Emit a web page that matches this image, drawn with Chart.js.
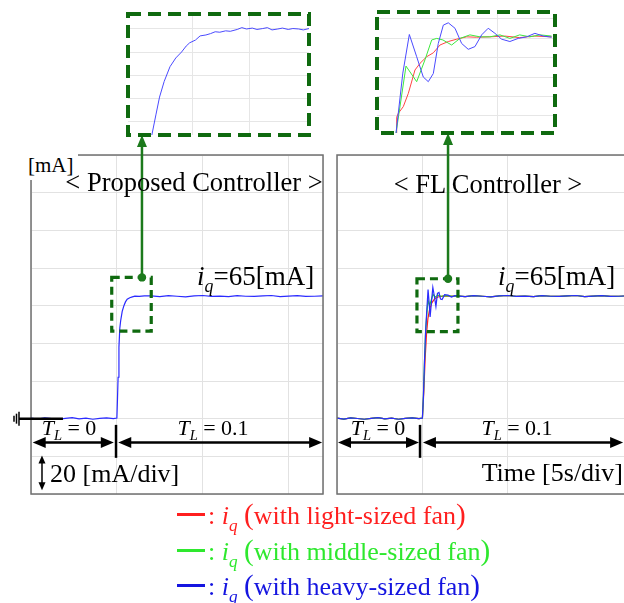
<!DOCTYPE html>
<html>
<head>
<meta charset="utf-8">
<script src="https://cdn.jsdelivr.net/npm/chart.js@4.4.1/dist/chart.umd.min.js"></script>
<style>
  html, body { margin: 0; padding: 0; background: #fff; overflow: hidden; }
  #wrap { position: relative; width: 624px; height: 603px; font-family: 'Liberation Serif', 'Times New Roman', serif; color: #000; }
  canvas { position: absolute; }
  .txt { position: absolute; white-space: nowrap; line-height: 1; z-index: 5; }
  .it { font-style: italic; }
  .sub { font-size: 0.66em; position: relative; top: 0.38em; font-style: italic; }
  .par { font-size: 1.12em; }
</style>
</head>
<body>
<div id="wrap">
  <canvas id="propMain" width="330" height="603" style="left:0;top:0;z-index:1"></canvas>
  <canvas id="flMain" width="294" height="603" style="left:330px;top:0;z-index:1"></canvas>
  <canvas id="propZoom" width="189" height="129" style="left:124px;top:10px;z-index:2"></canvas>
  <canvas id="flZoom" width="186" height="129" style="left:373px;top:8px;z-index:2"></canvas>
</div>
<script>
// time in s, current i_q in mA

// before the load step (T_L = 0) and the settled part, shared by the traces
var baseTime = [0, 0.4, 0.8, 1.2, 1.6, 2.0, 2.4, 2.8, 3.2, 3.6, 4.0, 4.4, 4.8];
var baseCurr = [0.3, -0.2, 0.4, 0.1, -0.3, 0.2, 0.5, -0.1, 0.3, -0.3, 0.2, 0.4, 0.0];
var tailTime = [7.0, 7.5, 8.0, 8.5, 9.0, 9.5, 10.0, 10.5, 11.0, 11.5, 12.0, 12.5, 13.0, 13.5, 14.0, 14.5, 15.0, 15.5, 16.0, 16.5, 17.0];
var tailCurr = [65.2, 64.8, 65.3, 65.0, 64.7, 65.2, 65.4, 64.9, 65.1, 64.8, 65.3, 65.0, 64.9, 65.2, 65.4, 64.8, 65.1, 65.3, 64.9, 65.0, 65.2];

// < Proposed Controller > : the three fans lie on top of each other
var propTime = [5.0, 5.03, 5.07, 5.12, 5.17, 5.22, 5.31, 5.41, 5.5, 5.6, 5.75, 5.9, 6.05, 6.3, 6.6];
var propCurr = [0.3, 9, 22, 38, 48, 52, 57, 60, 62, 63.4, 64.2, 64.7, 65.1, 64.9, 65.2];

// < FL Controller >
var flHeavyTime = [5.0, 5.06, 5.12, 5.19, 5.26, 5.33, 5.39, 5.45, 5.53, 5.61, 5.7, 5.79, 5.88, 5.97, 6.06, 6.15, 6.3, 6.5, 6.7, 6.9];
var flHeavy = [0.3, 12, 30, 47, 58, 68.6, 62, 54, 62, 69.7, 65, 59.6, 66.5, 67, 63.5, 63.3, 65.8, 65.6, 64.6, 65.3];
var flMiddleTime = [5.0, 5.06, 5.12, 5.19, 5.26, 5.33, 5.42, 5.52, 5.62, 5.75, 5.9, 6.1, 6.4, 6.8];
var flMiddle = [0.3, 12, 30, 47, 56, 63, 60, 63, 66, 64.5, 65.6, 65.0, 65.3, 65.0];
var flLightTime = [5.0, 5.08, 5.16, 5.24, 5.32, 5.42, 5.55, 5.7, 5.9, 6.2, 6.6];
var flLight = [0.3, 14, 32, 45, 53, 58, 61.5, 63.5, 64.6, 65.1, 65.0];

// zoomed windows above the panels
var propZoomTime = [5.15, 5.19, 5.22, 5.26, 5.31, 5.36, 5.41, 5.45, 5.48, 5.53, 5.57, 5.62, 5.66, 5.70, 5.74, 5.79, 5.83, 5.89, 5.93, 5.97, 6.02, 6.06, 6.11, 6.15, 6.19, 6.24, 6.28, 6.33, 6.37, 6.42, 6.46, 6.51];
var propZoomCurr = [41.5, 46.5, 50.2, 53.6, 56.8, 58.7, 60.0, 61.3, 62.0, 62.6, 63.5, 63.7, 64.0, 64.4, 64.3, 64.6, 64.5, 64.9, 65.3, 65.0, 65.2, 64.9, 65.1, 65.3, 64.8, 65.0, 65.2, 64.9, 65.1, 65.0, 64.8, 65.1];

var flZoomHeavyTime = [5.0, 5.10, 5.196, 5.304, 5.401, 5.475, 5.549, 5.622, 5.696, 5.769, 5.868, 5.966, 6.063, 6.162, 6.26, 6.357, 6.456, 6.554, 6.676, 6.799, 6.922, 7.044, 7.166, 7.29];
var flZoomHeavy = [40.6, 56, 65.9, 60.2, 55.0, 53.8, 55.9, 63.6, 68.3, 68.9, 67.5, 63.6, 62.1, 62.8, 65.8, 67.5, 66.2, 64.7, 64.1, 64.9, 65.3, 66.2, 65.5, 65.2];
var flZoomMiddleTime = [5.0, 5.147, 5.304, 5.426, 5.525, 5.599, 5.69, 5.819, 5.941, 6.088, 6.235, 6.382, 6.53, 6.676, 6.82, 6.97, 7.12, 7.29];
var flZoomMiddle = [40.6, 57.8, 53.8, 59.4, 64.5, 64.9, 64.5, 63.2, 64.9, 65.8, 65.3, 65.3, 65.8, 64.9, 65.8, 65.3, 65.8, 65.5];
var flZoomLightTime = [5.0, 5.01, 5.034, 5.107, 5.181, 5.279, 5.353, 5.451, 5.549, 5.647, 5.769, 5.893, 6.04, 6.187, 6.38, 6.6, 6.82, 7.04, 7.29];
var flZoomLight = [40.6, 44.7, 45.7, 47.4, 50.8, 56.8, 58.5, 60.2, 61.2, 63.2, 64.1, 64.7, 65.3, 65.2, 65.3, 65.5, 65.1, 65.5, 65.3];

var RED = '#ff2222', GREEN = '#22dd22', BLUE = '#2b2bff';
var DASH_GREEN = '#0f6a0f', ARROW_GREEN = '#1c7a1c';

function pts(t, v) {
  var out = [];
  for (var i = 0; i < t.length; i++) out.push({x: t[i], y: v[i]});
  return out;
}
function trace(t, v) {
  return pts(baseTime, baseCurr).concat(pts(t, v), pts(tailTime, tailCurr));
}
function series(data, color, order, width) {
  return { data: data, borderColor: color, borderWidth: width || 1.2, pointRadius: 0, tension: 0, order: order };
}

function head(ctx, x, y, dx, dy, len, hw) {
  ctx.beginPath();
  ctx.moveTo(x, y);
  ctx.lineTo(x - dx * len - dy * hw, y - dy * len + dx * hw);
  ctx.lineTo(x - dx * len + dy * hw, y - dy * len - dx * hw);
  ctx.closePath();
  ctx.fill();
}

function hArrow(ctx, x1, x2, y) {
  ctx.beginPath(); ctx.moveTo(x1 + 6, y); ctx.lineTo(x2 - 6, y); ctx.stroke();
  head(ctx, x1, y, -1, 0, 13, 5.5);
  head(ctx, x2, y, 1, 0, 13, 5.5);
}

// frame, zoom box with its arrow, load arrows and the scale marks
function mainDecor(o) {
  return {
    id: 'decor',
    afterDatasetsDraw: function(chart) {
      var ctx = chart.ctx, a = chart.chartArea;
      var X = function(v) { return chart.scales.x.getPixelForValue(v); };
      var Y = function(v) { return chart.scales.y.getPixelForValue(v); };
      ctx.save();

      ctx.strokeStyle = '#707070';
      ctx.lineWidth = 1.5;
      ctx.beginPath();
      ctx.moveTo(a.right, a.top); ctx.lineTo(a.left, a.top);
      ctx.lineTo(a.left, a.bottom); ctx.lineTo(a.right, a.bottom);
      if (o.closed) ctx.closePath();
      ctx.stroke();

      ctx.strokeStyle = '#000'; ctx.fillStyle = '#000';
      if (o.ground) {
        var gy = Y(0), gx = a.left - 12;
        ctx.lineWidth = 2.5;
        ctx.beginPath(); ctx.moveTo(gx, gy); ctx.lineTo(X(1.86), gy); ctx.stroke();
        ctx.lineWidth = 1.5;
        [[0, 7], [-2.5, 5], [-5, 3]].forEach(function(b) {
          ctx.beginPath(); ctx.moveTo(gx + b[0], gy - b[1]); ctx.lineTo(gx + b[0], gy + b[1]); ctx.stroke();
        });
        // 20 mA/div mark
        var dx = X(0.64);
        ctx.beginPath(); ctx.moveTo(dx, Y(-19.5) + 5); ctx.lineTo(dx, Y(-38) - 5); ctx.stroke();
        head(ctx, dx, Y(-19.5), 0, -1, 8, 3.5);
        head(ctx, dx, Y(-38), 0, 1, 8, 3.5);
      }

      // T_L arrows
      ctx.lineWidth = 2.5;
      var ay = Y(-12.7);
      hArrow(ctx, X(o.leftArrow[0]), X(o.leftArrow[1]), ay);
      hArrow(ctx, X(o.rightArrow[0]), X(o.rightArrow[1]), ay);
      ctx.beginPath(); ctx.moveTo(X(o.sepT), Y(-3.3)); ctx.lineTo(X(o.sepT), Y(-20.8)); ctx.stroke();

      // dashed zoom box
      var b = o.box;
      ctx.strokeStyle = DASH_GREEN;
      ctx.lineWidth = 3.2;
      ctx.setLineDash([8, 5]);
      ctx.strokeRect(X(b[0]), Y(b[3]), X(b[1]) - X(b[0]), Y(b[2]) - Y(b[3]));
      ctx.setLineDash([]);

      // arrow up to the zoom window
      var cx = X(o.dotT), cy = Y(b[3]);
      ctx.strokeStyle = ARROW_GREEN; ctx.fillStyle = ARROW_GREEN;
      ctx.lineWidth = 2.5;
      ctx.beginPath(); ctx.moveTo(cx, cy); ctx.lineTo(cx, o.insetBottom + 10); ctx.stroke();
      head(ctx, cx, o.insetBottom, 0, -1, 12, 5);
      ctx.beginPath(); ctx.arc(cx, cy, 4.2, 0, Math.PI * 2); ctx.fill();

      ctx.restore();
    }
  };
}

var zoomFrame = {
  id: 'zoomFrame',
  afterDraw: function(chart) {
    var a = chart.chartArea, ctx = chart.ctx;
    ctx.save();
    ctx.strokeStyle = DASH_GREEN;
    ctx.lineWidth = 4;
    ctx.setLineDash([13, 7]);
    ctx.strokeRect(a.left, a.top, a.right - a.left, a.bottom - a.top);
    ctx.restore();
  }
};

function mainChart(id, datasets, xMax, pad, decor) {
  var grid = { color: '#e2e2e2', drawTicks: false, lineWidth: 1 };
  return new Chart(document.getElementById(id), {
    type: 'line',
    data: { datasets: datasets },
    options: {
      responsive: false,
      animation: false,
      layout: { padding: pad },
      plugins: { legend: { display: false }, tooltip: { enabled: false } },
      scales: {
        x: { type: 'linear', min: 0, max: xMax, ticks: { display: false, stepSize: 5 }, grid: grid, border: { display: false } },
        y: { type: 'linear', min: -40, max: 140, ticks: { display: false, stepSize: 20 }, grid: grid, border: { display: false } }
      }
    },
    plugins: [decor]
  });
}

function zoomChart(id, datasets, xr, yr, xGrid, yGrid) {
  var grid = { color: '#e6e6e6', drawTicks: false, lineWidth: 1 };
  return new Chart(document.getElementById(id), {
    type: 'line',
    data: { datasets: datasets },
    options: {
      responsive: false,
      animation: false,
      layout: { padding: 4 },
      plugins: { legend: { display: false }, tooltip: { enabled: false } },
      scales: {
        x: { type: 'linear', min: xr[0], max: xr[1], ticks: { display: false }, grid: grid, border: { display: false },
             afterBuildTicks: function(s) { s.ticks = xGrid.map(function(v) { return {value: v}; }); } },
        y: { type: 'linear', min: yr[0], max: yr[1], ticks: { display: false }, grid: grid, border: { display: false },
             afterBuildTicks: function(s) { s.ticks = yGrid.map(function(v) { return {value: v}; }); } }
      }
    },
    plugins: [zoomFrame]
  });
}

mainChart('propMain', [
  series(trace(propTime, propCurr), BLUE, 0)
], 17, { left: 31, top: 155, right: 7, bottom: 109 }, mainDecor({
  closed: true, ground: true,
  box: [4.7, 7.0, 46.5, 75], dotT: 6.46, insetBottom: 135,
  leftArrow: [0.1, 4.82], rightArrow: [5.08, 16.95], sepT: 4.95
}));

mainChart('flMain', [
  series(trace(flHeavyTime, flHeavy), BLUE, 0),
  series(trace(flMiddleTime, flMiddle), GREEN, 1),
  series(trace(flLightTime, flLight), RED, 2)
], 16.8, { left: 7, top: 155, right: 0, bottom: 109 }, mainDecor({
  closed: false, ground: false,
  box: [4.68, 7.08, 46.2, 74.3], dotT: 6.5, insetBottom: 133,
  leftArrow: [0.06, 4.8], rightArrow: [5.03, 16.75], sepT: 4.86
}));

zoomChart('propZoom', [
  series(pts(propZoomTime, propZoomCurr), '#4a4aff', 0, 1)
], [4.948, 6.509], [41.96, 68.26], [5.5, 6.0], [45, 50, 55, 60, 65]);

zoomChart('flZoom', [
  series(pts(flZoomHeavyTime, flZoomHeavy), '#4a4aff', 0, 1),
  series(pts(flZoomMiddleTime, flZoomMiddle), '#3ee83e', 1, 1),
  series(pts(flZoomLightTime, flZoomLight), '#ff4444', 2, 1)
], [4.72, 7.34], [40.64, 71.67], [6.5], [45, 50, 55, 60, 65, 70]);

// text
var wrap = document.getElementById('wrap');
function label(html, x, base, size, align, color) {
  var d = document.createElement('div');
  d.className = 'txt';
  d.innerHTML = html;
  d.style.fontSize = size + 'px';
  d.style.top = (base - 0.8375 * size) + 'px';
  if (align === 'center') { d.style.left = x + 'px'; d.style.transform = 'translateX(-50%)'; }
  else if (align === 'right') { d.style.right = (624 - x) + 'px'; }
  else { d.style.left = x + 'px'; }
  if (color) d.style.color = color;
  wrap.appendChild(d);
  return d;
}

var unitBox = document.createElement('div');
unitBox.style.cssText = 'position:absolute;left:26px;top:149px;width:52px;height:31px;background:#fff;z-index:4';
wrap.appendChild(unitBox);
label('[mA]', 28, 173, 21);

label('&lt; Proposed Controller &gt;', 194, 191, 26.5, 'center');
label('&lt; FL Controller &gt;', 488, 193, 26.5, 'center');

var iq = '<span class="it">i</span><span class="sub">q</span>';
label(iq + '=65[mA]', 197, 286, 27);
label(iq + '=65[mA]', 498, 286, 27);

var tl = '<span class="it">T</span><span class="sub">L</span>&nbsp;=&nbsp;';
label(tl + '0', 69, 435, 22, 'center');
label(tl + '0.1', 213, 435, 22, 'center');
label(tl + '0', 378, 435, 22, 'center');
label(tl + '0.1', 517, 435, 22, 'center');

label('20 [mA/div]', 50, 483, 26);
label('Time [5s/div]', 623, 482, 26, 'right');

// legend
var legend = [
  { color: '#ff1f1f', text: 'with light-sized fan', base: 522 },
  { color: '#2ee82e', text: 'with middle-sized fan', base: 558 },
  { color: '#1515e0', text: 'with heavy-sized fan', base: 593 }
];
legend.forEach(function(item) {
  var line = document.createElement('div');
  line.style.cssText = 'position:absolute;left:177px;width:28px;height:2.5px;z-index:5;background:' + item.color;
  line.style.top = (item.base - 9) + 'px';
  wrap.appendChild(line);
  label(':&nbsp;' + iq + '&nbsp;<span class="par">(</span>' + item.text + '<span class="par">)</span>', 208, item.base, 26, null, item.color);
});
</script>
</body>
</html>
